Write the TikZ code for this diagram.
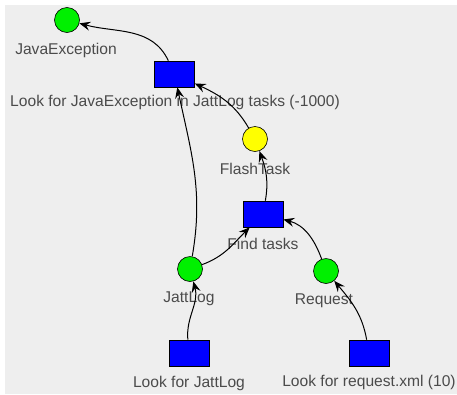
\documentclass[tikz,border=0pt]{standalone}
\usepackage{fontspec}
\setmainfont{Liberation Sans}
\usetikzlibrary{arrows.meta}
\definecolor{bggray}{RGB}{238,238,238}
\definecolor{labelgray}{RGB}{75,75,75}
\definecolor{placegreen}{RGB}{0,240,0}
\definecolor{placeyellow}{RGB}{255,255,0}
\definecolor{taskblue}{RGB}{0,0,255}
\tikzset{
  place/.style={circle, draw=black, line width=0.6pt, minimum size=25pt, inner sep=0pt},
  found/.style={place, fill=placegreen},
  pending/.style={place, fill=placeyellow},
  taskbox/.style={rectangle, draw=black, line width=0.6pt, fill=taskblue, minimum width=40pt, minimum height=26pt, inner sep=0pt},
  lbl/.style={text=labelgray, font=\fontsize{15.6}{18}\selectfont, inner sep=0pt},
  arr/.style={-{Stealth[length=11pt,width=9pt,inset=4pt]}, line width=1pt, black},
}
\begin{document}
\begin{tikzpicture}[x=1pt,y=-1pt]
  \useasboundingbox (0,0) rectangle (457,394);
  \fill[bggray] (5,5) rectangle (457,394);

  % places
  \node[found]   (je) at (67,20)  {};
  \node[pending] (fl) at (255,139) {};
  \node[found]   (jl) at (190,269) {};
  \node[found]   (rq) at (326,271) {};

  % tasks
  \node[taskbox] (b1) at (174.5,74) {};
  \node[taskbox] (ft) at (263,214) {};
  \node[taskbox] (lj) at (189,353) {};
  \node[taskbox] (lr) at (369,353) {};

  % labels
  \node[lbl] (jeL) at (66,50)   {JavaException};
  \node[lbl] (b1L) at (175,102) {Look for JavaException in JattLog tasks (-1000)};
  \node[lbl] (flL) at (255,169) {FlashTask};
  \node[lbl] (ftL) at (263,244) {Find tasks};
  \node[lbl] (jlL) at (189,299) {JattLog};
  \node[lbl] (rqL) at (324,301) {Request};
  \node[lbl] (ljL) at (189,383) {Look for JattLog};
  \node[lbl] (lrL) at (369,382) {Look for request.xml (10)};

  % arcs
  \draw[arr] (b1) to[out=115,in=-15] (je);
  \draw[arr] (fl) to[out=120,in=-25] (b1);
  \draw[arr] (ft) to[out=80,in=-70] (fl);
  \draw[arr] (jl) to[out=80,in=-78] (b1);
  \draw[arr] (jl) to[out=20,in=-135] (ft);
  \draw[arr] (rq) to[out=110,in=-15] (ft);
  \draw[arr] (lj) to[out=95,in=-75] (jl);
  \draw[arr] (lr) to[out=100,in=-50] (rq);
\end{tikzpicture}
\end{document}
